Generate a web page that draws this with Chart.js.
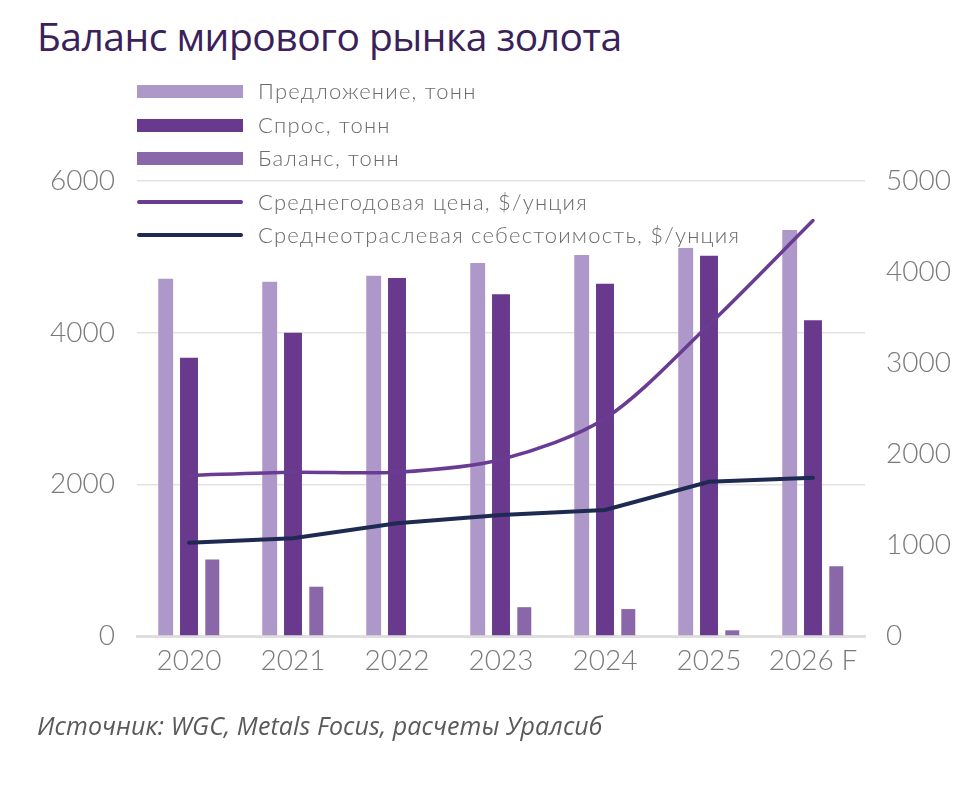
<!DOCTYPE html>
<html lang="ru">
<head>
<meta charset="utf-8">
<title>Баланс мирового рынка золота</title>
<script src="https://cdn.jsdelivr.net/npm/chart.js@4.4.1/dist/chart.umd.min.js"></script>
<style>
  body { margin: 0; background: #fff; }
  #wrap { position: relative; width: 975px; height: 793px; overflow: hidden; }
  #chart { position: absolute; left: 0; top: 0; }
  #title {
    position: absolute; left: 37px; top: 9px; margin: 0;
    font: 400 39px "Open Sans", sans-serif; color: #3a2159; letter-spacing: -0.5px;
  }
  #legend { position: absolute; left: 137px; top: 0; }
  .item { position: absolute; left: 0; width: 700px; height: 30px; }
  .swatch { position: absolute; left: 0; width: 106px; }
  .label {
    position: absolute; left: 121px; top: 0; white-space: nowrap;
    font: 300 22px Lato, sans-serif; color: #6b6b6b; line-height: 30px; letter-spacing: 1.2px;
  }
  #source {
    position: absolute; left: 37px; top: 708px; margin: 0;
    font: italic 400 25px "Open Sans", sans-serif; color: #5a5a5a; letter-spacing: 0.1px;
  }
</style>
</head>
<body>
<div id="wrap">
  <h1 id="title">Баланс мирового рынка золота</h1>
  <canvas id="chart" width="975" height="793"></canvas>
  <div id="legend"></div>
  <p id="source">Источник: WGC, Metals Focus, расчеты Уралсиб</p>
</div>
<script>
const years = ["2020", "2021", "2022", "2023", "2024", "2025", "2026 F"];

// тонн
const supply = [4710, 4670, 4750, 4920, 5025, 5115, 5355];
const demand = [3670, 4000, 4720, 4505, 4645, 5015, 4165];
const balance = [1010, 650, 0, 380, 355, 75, 920];

// $/унция
const price = [1765, 1800, 1800, 1940, 2390, 3420, 4565];
const cost = [1025, 1075, 1240, 1330, 1385, 1695, 1740];

const leftTicks = [0, 2000, 4000, 6000];
const rightTicks = [0, 1000, 2000, 3000, 4000, 5000];

const colors = {
	supply: "#ad98c9",
	demand: "#68398d",
	balance: "#8a67a8",
	price: "#6a3b93",
	cost: "#1f2a52",
};

const tickFont = { family: "Lato", size: 28, weight: 300 };

const datasets = [
	{
		type: "bar",
		label: "Предложение, тонн",
		data: supply,
		backgroundColor: colors.supply,
		barPercentage: 0.64,
		categoryPercentage: 0.672,
		yAxisID: "y",
		order: 2,
	},
	{
		type: "bar",
		label: "Спрос, тонн",
		data: demand,
		backgroundColor: colors.demand,
		barPercentage: 0.77,
		categoryPercentage: 0.672,
		yAxisID: "y",
		order: 2,
	},
	{
		type: "bar",
		label: "Баланс, тонн",
		data: balance,
		backgroundColor: colors.balance,
		barPercentage: 0.6,
		categoryPercentage: 0.672,
		yAxisID: "y",
		order: 2,
	},
	{
		type: "line",
		label: "Среднегодовая цена, $/унция",
		data: price,
		borderColor: colors.price,
		borderWidth: 3.5,
		tension: 0.3,
		pointRadius: 0,
		borderCapStyle: "round",
		fill: false,
		yAxisID: "y2",
		order: 1,
	},
	{
		type: "line",
		label: "Среднеотраслевая себестоимость, $/унция",
		data: cost,
		borderColor: colors.cost,
		borderWidth: 4,
		tension: 0,
		pointRadius: 0,
		borderCapStyle: "round",
		fill: false,
		yAxisID: "y2",
		order: 0,
	},
];

// plain numbers, no thousands separator
const plain = (value) => String(value);

new Chart(document.getElementById("chart"), {
	data: { labels: years, datasets: datasets },
	options: {
		responsive: false,
		animation: false,
		layout: { padding: { left: 0, right: 0, top: 181, bottom: 97 } },
		plugins: {
			legend: { display: false },
			tooltip: { enabled: false },
		},
		scales: {
			x: {
				grid: { display: false, drawTicks: false },
				border: { display: true, color: "#dedede", width: 3 },
				ticks: { color: "#7a7a7a", font: tickFont, padding: 8 },
				afterFit: (scale) => {
					scale.height = 60;
				},
			},
			y: {
				position: "left",
				min: 0,
				max: 6000,
				afterBuildTicks: (scale) => {
					scale.ticks = leftTicks.map((v) => ({ value: v }));
				},
				ticks: { color: "#7a7a7a", font: tickFont, padding: 22, callback: plain },
				grid: { color: "#e3e3e3", lineWidth: 1.5, drawTicks: false },
				border: { display: false },
				afterFit: (scale) => {
					scale.width = 137;
				},
			},
			y2: {
				position: "right",
				min: 0,
				max: 5000,
				afterBuildTicks: (scale) => {
					scale.ticks = rightTicks.map((v) => ({ value: v }));
				},
				ticks: { color: "#7a7a7a", font: tickFont, padding: 21, callback: plain },
				grid: { display: false, drawTicks: false },
				border: { display: false },
				afterFit: (scale) => {
					scale.width = 110;
				},
			},
		},
	},
});

// legend, one item per row
const legendRows = [
	{ y: 91, h: 13 },
	{ y: 125, h: 13 },
	{ y: 158, h: 13 },
	{ y: 202, h: 3.5 },
	{ y: 235, h: 4 },
];
const legendEl = document.getElementById("legend");
datasets.forEach((ds, i) => {
	const row = document.createElement("div");
	row.className = "item";
	row.style.top = legendRows[i].y - 15 + "px";
	const sw = document.createElement("div");
	sw.className = "swatch";
	sw.style.height = legendRows[i].h + "px";
	sw.style.top = 15 - legendRows[i].h / 2 + "px";
	sw.style.background = ds.type === "bar" ? ds.backgroundColor : ds.borderColor;
	if (ds.type === "line") sw.style.borderRadius = "2px";
	const lb = document.createElement("span");
	lb.className = "label";
	lb.innerText = ds.label;
	row.appendChild(sw);
	row.appendChild(lb);
	legendEl.appendChild(row);
});
</script>
</body>
</html>
